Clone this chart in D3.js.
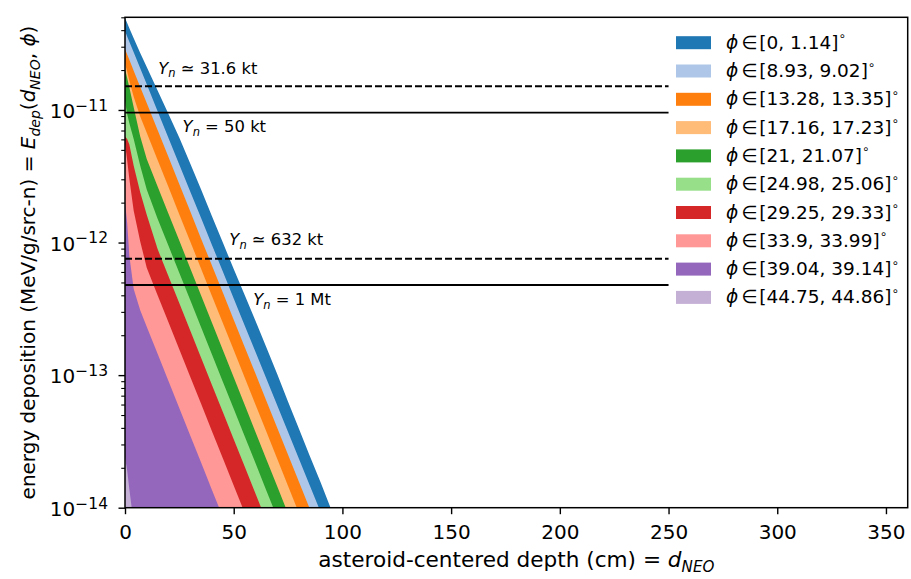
<!DOCTYPE html>
<html><head><meta charset="utf-8">
<script src="https://cdn.jsdelivr.net/npm/d3@7"></script>
<style>
body{margin:0;background:#fff}
svg{display:block}
text{font-family:"DejaVu Sans",sans-serif;fill:#000}
</style>
</head><body>
<svg id="c" width="911" height="579"></svg>
<script>
// ---------------- data ----------------
const depthCm = [0,1,2,4,7,10,15,20,25,30,35,40,45,50,55,60,65,70,75,80,85,90,95,100];

const phiBins = ["[0, 1.14]","[8.93, 9.02]","[13.28, 13.35]","[17.16, 17.23]","[21, 21.07]",
                 "[24.98, 25.06]","[29.25, 29.33]","[33.9, 33.99]","[39.04, 39.14]","[44.75, 44.86]"];

const edep_phi0  = [4.93e-11,4.52e-11,4.14e-11,3.47e-11,2.69e-11,2.11e-11,1.40e-11,9.33e-12,6.17e-12,3.94e-12,2.51e-12,1.58e-12,1.00e-12,6.31e-13,4.03e-13,2.57e-13,1.62e-13,1.02e-13,6.31e-14,3.94e-14,2.45e-14,1.55e-14,9.55e-15,null];
const edep_phi9  = [3.94e-11,3.59e-11,3.27e-11,2.72e-11,2.06e-11,1.56e-11,9.77e-12,6.15e-12,3.86e-12,2.43e-12,1.53e-12,9.59e-13,6.04e-13,3.79e-13,2.38e-13,1.50e-13,9.42e-14,5.92e-14,3.72e-14,2.34e-14,1.47e-14,9.25e-15,null,null];
const edep_phi13 = [2.88e-11,2.62e-11,2.39e-11,1.98e-11,1.49e-11,1.13e-11,7.05e-12,4.41e-12,2.75e-12,1.72e-12,1.07e-12,6.71e-13,4.20e-13,2.62e-13,1.64e-13,1.03e-13,6.41e-14,4.01e-14,2.51e-14,1.57e-14,9.79e-15,null,null,null];
const edep_phi17 = [2.24e-11,1.95e-11,1.66e-11,1.26e-11,8.93e-12,6.73e-12,4.20e-12,2.62e-12,1.63e-12,1.02e-12,6.35e-13,3.96e-13,2.47e-13,1.55e-13,9.64e-14,6.01e-14,3.75e-14,2.34e-14,1.46e-14,9.10e-15,null,null,null,null];
const edep_phi21 = [2.04e-11,1.74e-11,1.48e-11,1.05e-11,6.31e-12,4.27e-12,2.65e-12,1.65e-12,1.03e-12,6.41e-13,3.99e-13,2.48e-13,1.55e-13,9.64e-14,6.00e-14,3.73e-14,2.32e-14,1.45e-14,9.02e-15,null,null,null,null,null];
const edep_phi25 = [1.17e-11,9.33e-12,7.94e-12,6.03e-12,3.80e-12,2.51e-12,1.51e-12,9.44e-13,5.89e-13,3.68e-13,2.30e-13,1.43e-13,8.93e-14,5.57e-14,3.48e-14,2.17e-14,1.35e-14,8.43e-15,null,null,null,null,null,null];
const edep_phi29 = [6.31e-12,6.03e-12,5.50e-12,3.80e-12,2.40e-12,1.62e-12,8.93e-13,5.57e-13,3.48e-13,2.17e-13,1.35e-13,8.43e-14,5.26e-14,3.28e-14,2.05e-14,1.28e-14,7.98e-15,null,null,null,null,null,null,null];
const edep_phi34 = [5.62e-12,4.17e-12,3.02e-12,1.74e-12,1.02e-12,6.46e-13,4.00e-13,2.50e-13,1.56e-13,9.72e-14,6.07e-14,3.78e-14,2.36e-14,1.47e-14,9.18e-15,null,null,null,null,null,null,null,null,null];
const edep_phi39 = [2.00e-12,1.41e-12,7.94e-13,4.47e-13,3.08e-13,2.32e-13,1.45e-13,9.02e-14,5.62e-14,3.51e-14,2.19e-14,1.36e-14,8.51e-15,null,null,null,null,null,null,null,null,null,null,null];
const edep_phi45 = [2.40e-14,1.91e-14,1.38e-14,7.59e-15,null,null,null,null,null,null,null,null,null,null,null,null,null,null,null,null,null,null,null,null];

const seriesValues = [edep_phi0,edep_phi9,edep_phi13,edep_phi17,edep_phi21,edep_phi25,edep_phi29,edep_phi34,edep_phi39,edep_phi45];

const yieldLabel = ["31.6 kt","50 kt","632 kt","1 Mt"];
const yieldRel   = ["≃","=","≃","="];
const yieldEdep  = [1.51e-11, 9.55e-12, 7.55e-13, 4.78e-13];
const yieldDashed = [true,false,true,false];

const xTicks = [0,50,100,150,200,250,300,350];
const yTicks = [1e-14,1e-13,1e-12,1e-11];
const yTickExp = ["−14","−13","−12","−11"];

// ---------------- layout ----------------
const colors = ["#1f77b4","#aec7e8","#ff7f0e","#ffbb78","#2ca02c","#98df8a","#d62728","#ff9896","#9467bd","#c5b0d5"];
const W=911, H=579;
const L=125, R=907.7, T=17.3, B=507.7;
const FS_TICK=20, FS_XLAB=21.6, FS_YLAB=20, FS_LEG=18.5, FS_ANN=16.4;

const svg = d3.select("#c");
const x = d3.scaleLinear().domain([0,360]).range([L,R]);
const y = d3.scaleLog().domain([1e-14,5e-11]).range([B,T]);

svg.append("defs").append("clipPath").attr("id","clip")
  .append("rect").attr("x",L).attr("y",T).attr("width",R-L).attr("height",B-T);

const plot = svg.append("g").attr("clip-path","url(#clip)");
const area = d3.area()
  .defined(p => p.v != null)
  .x(p => x(p.d)).y0(B).y1(p => y(p.v));

seriesValues.forEach((vals,i) => {
  const pts = depthCm.map((d,j) => ({d, v: vals[j]}));
  plot.append("path").attr("d", area(pts)).attr("fill", colors[i]).attr("stroke","none");
});

// rich text helper
function rich(sel, parts, base){
  let off = 0;
  parts.forEach(p => {
    const ts = sel.append("tspan").text(p.t);
    let target = 0, fs = base;
    if (p.sub){ target = base*0.24; fs = base*0.7; }
    if (p.sup){ target = -base*0.42; fs = base*0.7; }
    if (target !== off){ ts.attr("dy", target-off); off = target; }
    ts.attr("font-size", fs);
    if (p.it) ts.attr("font-style","italic");
  });
}

// yield lines
const annotDepth = [15.3, 26.5, 48, 59];
const annotDy = [-12.7, 19, -13.7, 20];
yieldEdep.forEach((v,i) => {
  svg.append("line").attr("x1",x(0)).attr("x2",x(250)).attr("y1",y(v)).attr("y2",y(v))
    .attr("stroke","#000").attr("stroke-width",1.9)
    .attr("stroke-dasharray", yieldDashed[i] ? "7,3" : null);
  const t = svg.append("text").attr("x", x(annotDepth[i])).attr("y", y(v)+annotDy[i]).attr("font-size",FS_ANN);
  rich(t, [{t:"Y",it:true},{t:"n",it:true,sub:true},{t:" "+yieldRel[i]+" "+yieldLabel[i]}], FS_ANN);
});

// axes
const gx = svg.append("g").attr("transform",`translate(0,${B})`)
  .call(d3.axisBottom(x).tickValues(xTicks).tickSize(6.5).tickPadding(10.5).tickFormat(d3.format("d")));
gx.select(".domain").remove();
gx.selectAll("line").attr("stroke","#000").attr("stroke-width",1.4);
gx.selectAll("text").attr("font-size",FS_TICK).attr("font-family","DejaVu Sans").attr("fill","#000");

const minor = [];
for (let e=-14; e<=-11; e++) for (let k=2;k<=9;k++){ const v=k*Math.pow(10,e); if (v<=5e-11) minor.push(v); }
const gym = svg.append("g").attr("transform",`translate(${L},0)`)
  .call(d3.axisLeft(y).tickValues(minor).tickSize(3.75).tickFormat(""));
gym.select(".domain").remove();
gym.selectAll("line").attr("stroke","#000").attr("stroke-width",1.1);

const gy = svg.append("g").attr("transform",`translate(${L},0)`)
  .call(d3.axisLeft(y).tickValues(yTicks).tickSize(6.5).tickFormat(""));
gy.select(".domain").remove();
gy.selectAll("line").attr("stroke","#000").attr("stroke-width",1.4);

yTicks.forEach((v,i) => {
  const t = svg.append("text").attr("x", 108).attr("y", y(v)+8.3).attr("text-anchor","end").attr("font-size",FS_TICK);
  t.append("tspan").text("10");
  t.append("tspan").text(yTickExp[i]).attr("font-size",15.5).attr("dy",-7.5);
});

svg.append("rect").attr("x",L).attr("y",T).attr("width",R-L).attr("height",B-T)
  .attr("fill","none").attr("stroke","#000").attr("stroke-width",1.5);

// axis labels
const xl = svg.append("text").attr("x",(L+R)/2).attr("y",567).attr("text-anchor","middle").attr("font-size",FS_XLAB);
rich(xl, [{t:"asteroid-centered depth (cm) = "},{t:"d",it:true},{t:"NEO",it:true,sub:true}], FS_XLAB);

const yl = svg.append("text").attr("transform",`translate(35,${(T+B)/2}) rotate(-90)`)
  .attr("text-anchor","middle").attr("font-size",FS_YLAB);
rich(yl, [{t:"energy deposition (MeV/g/src-n) = "},{t:"E",it:true},{t:"dep",it:true,sub:true},{t:"("},
          {t:"d",it:true},{t:"NEO",it:true,sub:true},{t:", "},{t:"ϕ",it:true},{t:")"}], FS_YLAB);

// legend
phiBins.forEach((lab,i) => {
  const cy = 42.7 + i*28.3;
  svg.append("rect").attr("x",676).attr("y",cy-6.5).attr("width",35).attr("height",13).attr("fill",colors[i]);
  const t = svg.append("text").attr("x",726).attr("y",cy+6).attr("font-size",FS_LEG);
  t.append("tspan").text("ϕ").attr("font-style","italic");
  t.append("tspan").text("\u2006∈\u200A"+lab);
  t.append("tspan").text("∘").attr("font-size",12).attr("dy",-8.5);
});
</script>
</body></html>
